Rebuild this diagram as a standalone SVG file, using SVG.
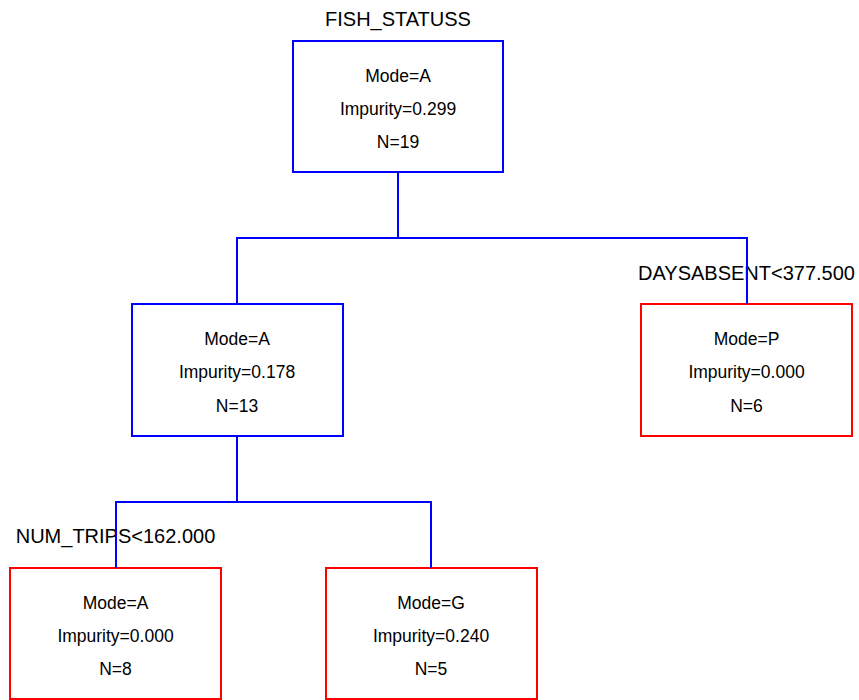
<svg xmlns="http://www.w3.org/2000/svg" width="859" height="700" viewBox="0 0 859 700">
<style>
.bg{fill:#fff}
.inner{fill:#fff;stroke:#0000ff;stroke-width:2}
.leaf{fill:#fff;stroke:#ff0000;stroke-width:2}
.t{font-family:"Liberation Sans",Arial,sans-serif;font-size:17.5px;fill:#000;text-anchor:middle}
.lbl{font-family:"Liberation Sans",Arial,sans-serif;font-size:20px;fill:#000;text-anchor:middle}
.edge{fill:none;stroke:#0000ff;stroke-width:2}
</style>
<rect class="bg" x="0" y="0" width="859" height="700"/>
<g id="root">
<text class="lbl" x="398" y="26">FISH_STATUSS</text>
<rect class="inner" x="293" y="41" width="210" height="131"/>
<text class="t" x="398" y="82">Mode=A</text>
<text class="t" x="398" y="115">Impurity=0.299</text>
<text class="t" x="398" y="148">N=19</text>
</g>
<g id="node_left">
<rect class="inner" x="132" y="304" width="211" height="132"/>
<text class="t" x="237" y="345">Mode=A</text>
<text class="t" x="237" y="378">Impurity=0.178</text>
<text class="t" x="237" y="412">N=13</text>
</g>
<g id="node_right">
<text class="lbl" x="746.5" y="280">DAYSABSENT&lt;377.500</text>
<rect class="leaf" x="641" y="304" width="211" height="132"/>
<text class="t" x="746.5" y="345">Mode=P</text>
<text class="t" x="746.5" y="378">Impurity=0.000</text>
<text class="t" x="746.5" y="412">N=6</text>
</g>
<g id="node_ll">
<text class="lbl" x="115.5" y="543">NUM_TRIPS&lt;162.000</text>
<rect class="leaf" x="10" y="568" width="211" height="131"/>
<text class="t" x="115.5" y="609">Mode=A</text>
<text class="t" x="115.5" y="642">Impurity=0.000</text>
<text class="t" x="115.5" y="675">N=8</text>
</g>
<g id="node_lr">
<rect class="leaf" x="326" y="568" width="211" height="131"/>
<text class="t" x="431" y="609">Mode=G</text>
<text class="t" x="431" y="642">Impurity=0.240</text>
<text class="t" x="431" y="675">N=5</text>
</g>
<g id="connectors">
<path class="edge" d="M398 172 V238 M237 304 V238 H747 V304"/>
<path class="edge" d="M237 436 V502 M116 568 V502 H431 V568"/>
</g>
</svg>
